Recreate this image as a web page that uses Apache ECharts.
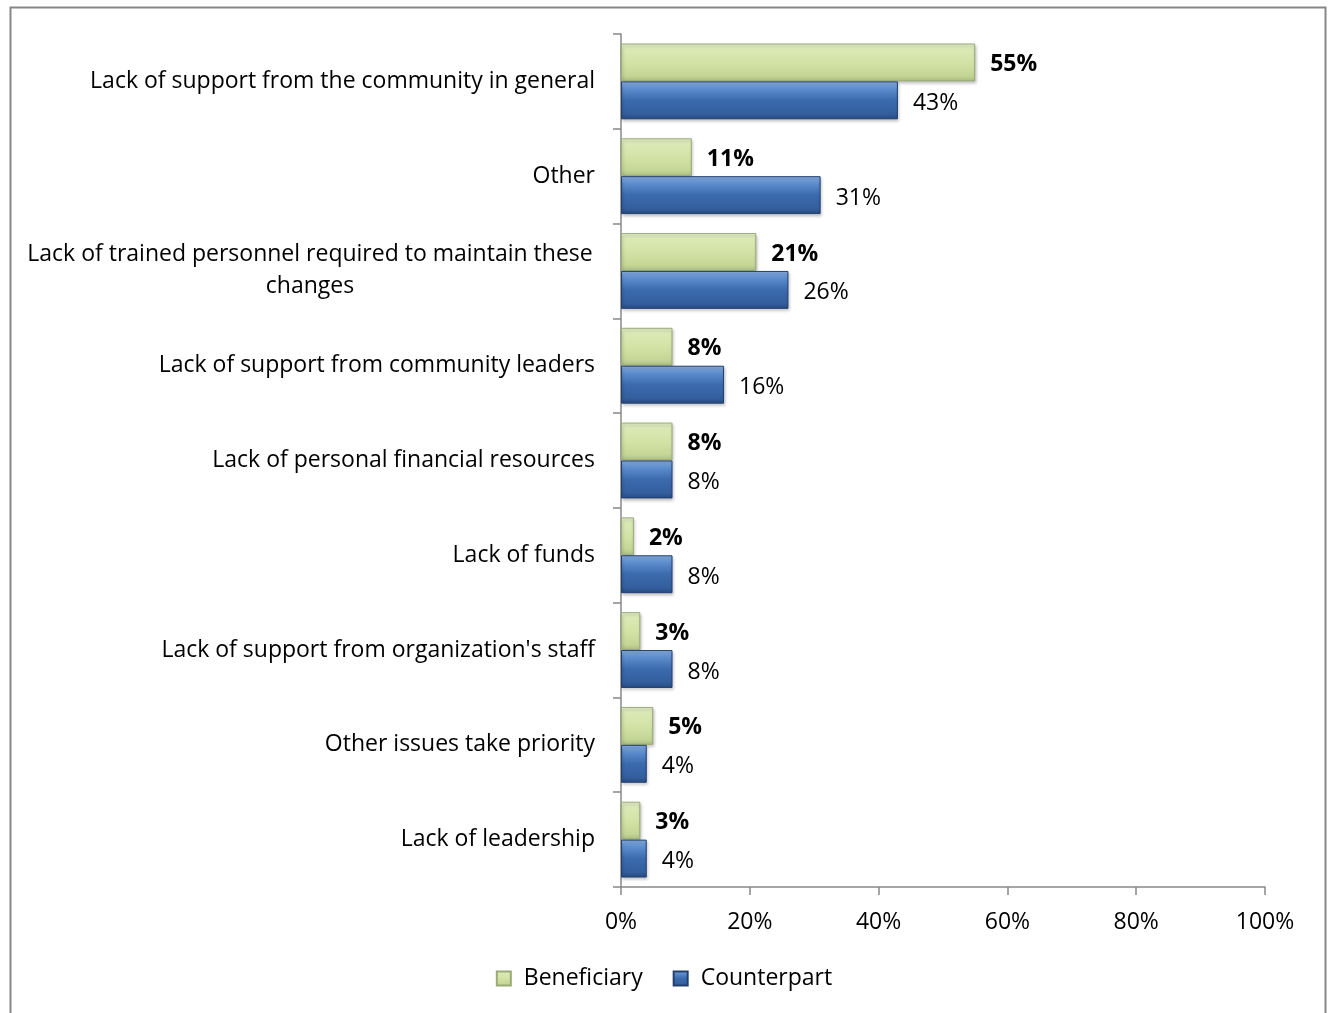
<!DOCTYPE html>
<html>
<head>
<meta charset="utf-8">
<script src="https://cdn.jsdelivr.net/npm/echarts@6/dist/echarts.min.js"></script>
<style>
  html, body { margin: 0; padding: 0; background: #fff; }
  #chart { width: 1328px; height: 1013px; }
</style>
</head>
<body>
<div id="chart"></div>
<script>
// Barriers to sustaining changes, share of respondents by group
const categories = [
  'Lack of support from the community in general',
  'Other',
  'Lack of trained personnel required to maintain these\nchanges',
  'Lack of support from community leaders',
  'Lack of personal financial resources',
  'Lack of funds',
  "Lack of support from organization's staff",
  'Other issues take priority',
  'Lack of leadership'
];
const beneficiary = [55, 11, 21, 8, 8, 2, 3, 5, 3];
const counterpart = [43, 31, 26, 16, 8, 8, 8, 4, 4];
const xTicks = [0, 20, 40, 60, 80, 100];

const FONT = '"Open Sans", Lato, sans-serif';
const FS = 23;

const greenFill = new echarts.graphic.LinearGradient(0, 0, 0, 1, [
  { offset: 0, color: '#e6f0cc' },
  { offset: 0.15, color: '#dbe9b5' },
  { offset: 0.5, color: '#d3e3a6' },
  { offset: 0.85, color: '#c4d696' },
  { offset: 1, color: '#a9bd80' }
]);
const blueFill = new echarts.graphic.LinearGradient(0, 0, 0, 1, [
  { offset: 0, color: '#8cb2e4' },
  { offset: 0.18, color: '#5f8fcf' },
  { offset: 0.5, color: '#3b6aae' },
  { offset: 0.85, color: '#345f9e' },
  { offset: 1, color: '#274a80' }
]);

const chart = echarts.init(document.getElementById('chart'), null, { renderer: 'canvas' });

chart.setOption({
  animation: false,
  backgroundColor: '#ffffff',
  textStyle: { fontFamily: FONT },
  graphic: [{
    type: 'rect',
    left: 8, top: 5,
    shape: { width: 1315, height: 1100 },
    style: { fill: 'none', stroke: '#878787', lineWidth: 2 },
    silent: true
  }],
  legend: {
    bottom: 18,
    left: 'center',
    itemWidth: 14,
    itemHeight: 14,
    itemGap: 30,
    icon: 'rect',
    textStyle: { fontFamily: FONT, fontSize: FS, color: '#000', padding: [0, 0, 0, 8] },
    data: ['Beneficiary', 'Counterpart']
  },
  grid: { left: 621, right: 63, top: 34, bottom: 126, containLabel: false },
  xAxis: {
    type: 'value',
    min: 0, max: 100, interval: 20,
    axisLine: { show: true, lineStyle: { color: '#888', width: 1.5 } },
    axisTick: { show: true, length: 8, lineStyle: { color: '#888', width: 1.5 } },
    splitLine: { show: false },
    axisLabel: {
      margin: 24,
      fontFamily: FONT, fontSize: FS, color: '#000',
      formatter: v => xTicks.includes(v) ? v + '%' : ''
    }
  },
  yAxis: {
    type: 'category',
    inverse: true,
    data: categories,
    axisLine: { show: true, lineStyle: { color: '#888', width: 1.5 } },
    axisTick: { show: true, length: 8, lineStyle: { color: '#888', width: 1.5 } },
    axisLabel: {
      margin: 26,
      fontFamily: FONT, fontSize: FS, color: '#000', lineHeight: 32,
      formatter: v => v.indexOf('\n') >= 0
        ? v.split('\n').map(s => '{c|' + s + '}').join('\n')
        : v,
      rich: { c: { width: 570, align: 'center', fontFamily: FONT, fontSize: FS, color: '#000', lineHeight: 32 } }
    }
  },
  series: [
    {
      name: 'Beneficiary',
      type: 'bar',
      data: beneficiary,
      barCategoryGap: '20%',
      barGap: '0%',
      itemStyle: { color: greenFill, borderColor: '#9aab78', borderWidth: 1,
        shadowColor: 'rgba(0,0,0,0.25)', shadowBlur: 3, shadowOffsetX: 1, shadowOffsetY: 2 },
      label: {
        show: true, position: 'right', distance: 15, offset: [0, 2],
        formatter: p => p.value + '%',
        fontFamily: FONT, fontSize: FS, fontWeight: 'bold', color: '#000'
      }
    },
    {
      name: 'Counterpart',
      type: 'bar',
      data: counterpart,
      barCategoryGap: '20%',
      barGap: '0%',
      itemStyle: { color: blueFill, borderColor: '#22406e', borderWidth: 1,
        shadowColor: 'rgba(0,0,0,0.25)', shadowBlur: 3, shadowOffsetX: 1, shadowOffsetY: 2 },
      label: {
        show: true, position: 'right', distance: 15, offset: [0, 3],
        formatter: p => p.value + '%',
        fontFamily: FONT, fontSize: FS, color: '#000'
      }
    }
  ]
});
</script>
</body>
</html>
